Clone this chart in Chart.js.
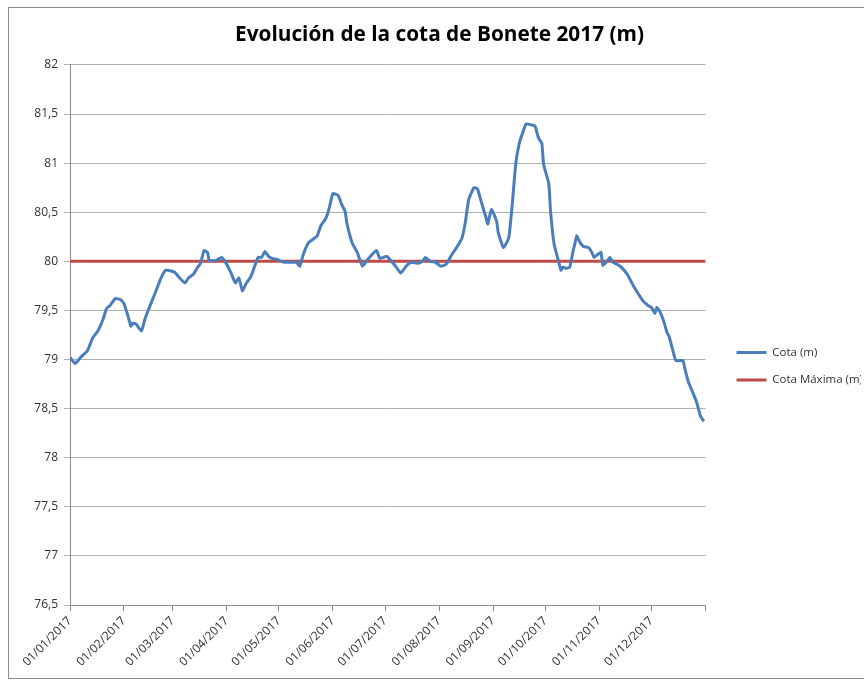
<!DOCTYPE html>
<html>
<head>
<meta charset="utf-8">
<script src="https://cdn.jsdelivr.net/npm/chart.js@4/dist/chart.umd.min.js"></script>
<style>
  body { margin: 0; background: #fff; }
  #wrap { position: relative; width: 864px; height: 680px; overflow: hidden; }
  #frame { position: absolute; left: 8px; top: 7px; width: 900px; height: 670px; border: 1px solid #8c8c8c; }
  canvas { position: absolute; left: 0; top: 0; }
</style>
</head>
<body>
<div id="wrap">
  <div id="frame"></div>
  <canvas id="chart" width="864" height="680"></canvas>
</div>
<script>
// day of year (0 = 01/01/2017) and level
const days = [0, 3, 6, 10, 13, 16, 19, 21, 23, 26, 29, 31, 33, 35, 36, 38, 41, 43, 46, 49,
  52, 55, 60, 63, 66, 68, 71, 73, 75, 77, 79, 80, 84, 87, 89, 92, 95, 97, 99, 101,
  104, 108, 110, 112, 114, 116, 119, 123, 130, 132, 134, 137, 140, 142, 144, 147, 149, 151, 154, 156,
  158, 159, 162, 165, 168, 171, 176, 178, 182, 187, 190, 193, 196, 200, 203, 204, 207, 210, 213, 216,
  219, 222, 225, 227, 229, 232, 234, 236, 239, 240, 242, 245, 246, 249, 252, 254, 256, 258, 260, 262,
  265, 267, 269, 271, 272, 275, 276, 278, 280, 282, 283, 285, 287, 289, 290, 291, 293, 295, 298, 300,
  301, 303, 305, 306, 308, 310, 312, 316, 320, 323, 326, 329, 332, 334, 336, 337, 339, 341, 343, 344,
  346, 348, 352, 353, 355, 358, 360, 362, 364];
const cota = [79.02, 78.96, 79.02, 79.09, 79.22, 79.29, 79.41, 79.52, 79.55, 79.62, 79.61, 79.57, 79.46, 79.34, 79.37, 79.36, 79.29, 79.41, 79.55, 79.68,
  79.82, 79.91, 79.89, 79.83, 79.78, 79.83, 79.87, 79.93, 79.98, 80.11, 80.09, 80.01, 80.01, 80.04, 80.0, 79.9, 79.78, 79.83, 79.70, 79.77,
  79.85, 80.04, 80.04, 80.10, 80.05, 80.03, 80.02, 79.99, 79.99, 79.95, 80.07, 80.19, 80.23, 80.26, 80.36, 80.44, 80.55, 80.69, 80.67, 80.58,
  80.51, 80.39, 80.19, 80.09, 79.95, 80.02, 80.11, 80.03, 80.05, 79.95, 79.88, 79.95, 79.99, 79.98, 80.01, 80.04, 80.0, 79.99, 79.95, 79.97,
  80.06, 80.14, 80.23, 80.39, 80.63, 80.75, 80.74, 80.62, 80.44, 80.38, 80.53, 80.41, 80.29, 80.14, 80.24, 80.58, 80.99, 81.20, 81.31, 81.40,
  81.39, 81.38, 81.26, 81.20, 80.99, 80.79, 80.51, 80.18, 80.04, 79.91, 79.94, 79.93, 79.94, 80.11, 80.18, 80.26, 80.19, 80.15, 80.14, 80.08,
  80.04, 80.07, 80.09, 79.96, 79.99, 80.04, 79.99, 79.95, 79.87, 79.77, 79.68, 79.60, 79.55, 79.53, 79.47, 79.53, 79.48, 79.39, 79.27, 79.24,
  79.11, 78.99, 78.99, 78.92, 78.78, 78.65, 78.56, 78.43, 78.37];
const maxDays = [0, 365];
const cotaMaxima = [80, 80];
const monthStarts = [0, 31, 59, 90, 120, 151, 181, 212, 243, 273, 304, 334, 365];
const tickLabels = ['01/01/2017', '01/02/2017', '01/03/2017', '01/04/2017', '01/05/2017', '01/06/2017',
  '01/07/2017', '01/08/2017', '01/09/2017', '01/10/2017', '01/11/2017', '01/12/2017', ''];

const FONT = 'Open Sans';
const gridColor = '#b0b0b0';
const axisColor = '#8c8c8c';

function draw() {
  new Chart(document.getElementById('chart'), {
    type: 'line',
    data: {
      datasets: [{
        label: 'Cota (m)',
        data: days.map((d, i) => ({x: d, y: cota[i]})),
        borderColor: '#4a7ebb',
        backgroundColor: '#4a7ebb',
        borderWidth: 3,
        pointRadius: 0,
        tension: 0.15
      }, {
        label: 'Cota Máxima (m)',
        data: maxDays.map((d, i) => ({x: d, y: cotaMaxima[i]})),
        borderColor: '#be4b48',
        backgroundColor: '#be4b48',
        borderWidth: 3,
        pointRadius: 0
      }]
    },
    options: {
      responsive: false,
      animation: false,
      layout: { padding: { left: 18, right: 3, top: 0, bottom: 0 } },
      plugins: {
        title: {
          display: true,
          text: 'Evolución de la cota de Bonete 2017 (m)',
          color: '#000',
          font: { family: FONT, size: 20.8, weight: 'bold' },
          padding: { top: 23, bottom: 17 }
        },
        legend: {
          position: 'right',
          title: { display: true, text: '', padding: { top: 38, bottom: 0 } },
          labels: {
            usePointStyle: true,
            pointStyle: 'line',
            pointStyleWidth: 30,
            padding: 16,
            color: '#333',
            font: { family: FONT, size: 11.5 }
          }
        },
        tooltip: { enabled: false }
      },
      scales: {
        x: {
          type: 'linear',
          min: 0,
          max: 365,
          afterBuildTicks: s => { s.ticks = monthStarts.map(v => ({value: v})); },
          afterFit: s => { s.height = 75; },
          grid: { drawOnChartArea: false, drawTicks: true, tickLength: 6, color: axisColor },
          border: { color: axisColor },
          ticks: {
            autoSkip: false,
            minRotation: 45,
            maxRotation: 45,
            color: '#333',
            font: { family: FONT, size: 12 },
            callback: (v, i) => tickLabels[i]
          }
        },
        y: {
          min: 76.5,
          max: 82,
          afterFit: s => { s.width = 52; },
          grid: { color: gridColor, tickLength: 6 },
          border: { color: axisColor },
          ticks: {
            stepSize: 0.5,
            padding: 6,
            color: '#333',
            font: { family: FONT, size: 12 },
            callback: v => String(v).replace('.', ',')
          }
        },
        pad: {
          type: 'linear',
          position: 'right',
          grid: { display: false },
          border: { display: false },
          ticks: { display: false },
          afterFit: s => { s.width = 15; }
        }
      }
    }
  });
}

Promise.all([
  document.fonts.load('12px "Open Sans"'),
  document.fonts.load('bold 21px "Open Sans"')
]).then(draw, draw);
</script>
</body>
</html>
